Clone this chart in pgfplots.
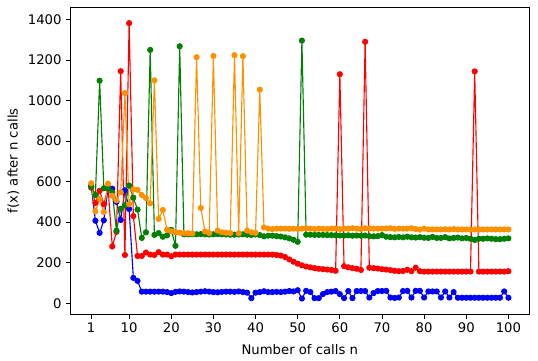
\documentclass[border=0pt]{standalone}
\usepackage{fontspec}
\setmainfont{DejaVu Sans}
\usepackage{pgfplots}
\usepackage{pgfplotstable}
\pgfplotsset{compat=1.18}

\definecolor{mplblue}{RGB}{0,0,255}
\definecolor{mplred}{RGB}{255,0,0}
\definecolor{mplgreen}{RGB}{0,128,0}
\definecolor{mplorange}{RGB}{255,145,0}

% n, then the four runs
\pgfplotstableread{
n b r g o
1 580 570 575 592
2 407 495 534 453
3 347 555 1098 514
4 409 488 567 450
5 567 572 567 590
6 565 280 548 530
7 500 352 358 508
8 411 1145 466 548
9 557 238 482 1037
10 465 1382 581 488
11 125 430 521 562
12 110 233 462 559
13 57 233 322 534
14 57 250 350 519
15 57 240 1250 493
16 57 238 337 1100
17 57 252 346 416
18 57 240 328 460
19 55 240 335 362
20 50 232 362 355
21 56 240 283 350
22 58 240 1268 348
23 57 240 340 346
24 55 240 340 345
25 53 240 340 344
26 55 240 340 1214
27 57 240 341 470
28 59 240 340 354
29 57 240 339 346
30 55 240 340 1220
31 54 240 341 358
32 56 240 340 350
33 57 240 339 348
34 57 240 338 346
35 56 240 338 1224
36 58 240 339 345
37 55 240 340 1219
38 52 240 338 358
39 25 240 337 350
40 52 240 339 347
41 55 240 336 1054
42 59 240 330 374
43 55 240 333 368
44 55 240 333 366
45 56 238 331 368
46 55 235 329 368
47 57 228 325 368
48 60 216 320 367
49 58 205 313 368
50 64 195 303 367
51 23 187 1296 368
52 61 181 338 370
53 55 177 338 368
54 25 173 337 366
55 25 170 337 368
56 45 168 337 367
57 55 166 336 366
58 57 164 336 368
59 60 160 335 369
60 45 1130 334 366
61 25 183 334 368
62 60 177 335 368
63 25 173 333 370
64 60 170 334 368
65 60 164 333 366
66 60 1290 334 370
67 28 175 331 369
68 50 173 330 368
69 60 171 331 368
70 60 168 336 368
71 61 166 328 369
72 28 163 326 370
73 26 160 325 367
74 28 158 327 368
75 60 159 325 368
76 61 165 328 368
77 28 158 325 370
78 61 175 324 366
79 61 158 326 363
80 28 156 323 368
81 58 156 322 364
82 58 156 327 364
83 58 156 322 364
84 28 156 322 364
85 58 156 326 365
86 28 156 320 364
87 55 156 322 366
88 27 156 324 364
89 27 156 320 364
90 27 156 322 364
91 27 156 318 363
92 27 1144 312 364
93 27 156 318 364
94 27 156 318 364
95 27 156 320 364
96 27 156 318 364
97 27 156 316 364
98 27 156 316 364
99 58 156 318 364
100 27 158 320 364
}\calls

\begin{document}
\begin{tikzpicture}
\begin{axis}[
    scale only axis,
    width=368pt,
    height=246pt,
    xmin=-3.95, xmax=104.95,
    ymin=-54, ymax=1460,
    xtick={1,10,20,30,40,50,60,70,80,90,100},
    ytick={0,200,400,600,800,1000,1200,1400},
    tick pos=left,
    tick align=outside,
    major tick length=3.5pt,
    tick style={black, line width=0.6pt},
    axis line style={line width=0.6pt},
    /pgf/number format/assume math mode=true,
    /pgf/number format/1000 sep={},
    tick label style={font=\fontsize{10.6}{12.7}\selectfont},
    label style={font=\fontsize{10.6}{12.7}\selectfont},
    xlabel={Number of calls n},
    ylabel={f(x) after n calls},
    xlabel style={at={(axis description cs:0.5,-0.114)}, anchor=center},
    ylabel style={at={(axis description cs:-0.124,0.5)}, anchor=center},
    every axis plot/.append style={line width=0.9pt, mark=*, mark size=2pt},
]
\addplot[mplblue] table[x=n, y=b] {\calls};
\addplot[mplred] table[x=n, y=r] {\calls};
\addplot[mplgreen] table[x=n, y=g] {\calls};
\addplot[mplorange] table[x=n, y=o] {\calls};
\end{axis}
\path (current axis.south west) ++(-56.4pt,-37.5pt) (current axis.north east) ++(7pt,5.9pt);
\end{tikzpicture}
\end{document}
